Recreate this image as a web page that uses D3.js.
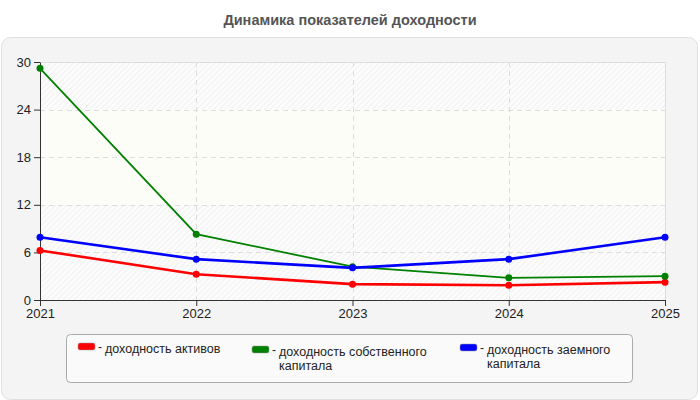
<!DOCTYPE html>
<html><head><meta charset="utf-8">
<script src="https://cdn.jsdelivr.net/npm/d3@7"></script>
<style>body{margin:0;background:#fff;} svg{display:block;font-family:"Liberation Sans",Arial,sans-serif;}</style>
</head><body><svg id="c" width="700" height="400"></svg>
<script>
const years = ["2021","2022","2023","2024","2025"];
const yTicks = [0,6,12,18,24,30];
const seriesNames = ["доходность активов","доходность собственного капитала","доходность заемного капитала"];
const seriesColors = ["#ff0000","#008000","#0000ff"];
const roa = [6.25, 3.25, 2.0, 1.85, 2.25];
const roe = [29.2, 8.3, 4.2, 2.8, 3.0];
const rol = [7.9, 5.15, 4.05, 5.15, 7.9];
const values = [roa, roe, rol];
const legendLines = [["доходность активов"],["доходность собственного","капитала"],["доходность заемного","капитала"]];

const svg = d3.select("#c");
const L=40, R=665, T=62, B=300;
const x = d3.scalePoint().domain(years).range([L,R]);
const y = d3.scaleLinear().domain([0,30]).range([B,T]);

const defs = svg.append("defs");
const pat = defs.append("pattern").attr("id","hatch").attr("patternUnits","userSpaceOnUse")
  .attr("width",4).attr("height",4).attr("patternTransform","rotate(45)");
pat.append("rect").attr("width",4).attr("height",4).attr("fill","#fcfcfc");
pat.append("line").attr("x1",0).attr("y1",0).attr("x2",0).attr("y2",4).attr("stroke","#eeeeee").attr("stroke-width",1.5);

// title
svg.append("text").attr("x",350).attr("y",25).attr("text-anchor","middle")
  .attr("font-size",14.5).attr("font-weight","bold").attr("fill","#555").text("Динамика показателей доходности");

// outer panel
svg.append("rect").attr("x",1.5).attr("y",37.5).attr("width",696).attr("height",362).attr("rx",9)
  .attr("fill","#f4f4f4").attr("stroke","#e0e0e0");

// plot background
svg.append("rect").attr("x",L).attr("y",T).attr("width",R-L).attr("height",B-T).attr("fill","url(#hatch)");
svg.append("rect").attr("x",L).attr("y",y(24)).attr("width",R-L).attr("height",y(12)-y(24)).attr("fill","#fdfdf8");
svg.append("path").attr("d",`M${L},${T+0.5}H${R+0.5}V${B}`).attr("fill","none").attr("stroke","#dddddd");

// grid
const g = svg.append("g");
g.selectAll(".hg").data(yTicks.filter(d=>d>0&&d<30)).join("line")
  .attr("x1",L).attr("x2",R).attr("y1",d=>Math.round(y(d))+0.5).attr("y2",d=>Math.round(y(d))+0.5)
  .attr("stroke","#dddddd").attr("stroke-dasharray","5,4");
g.selectAll(".vg").data(years.slice(1,-1)).join("line")
  .attr("y1",T).attr("y2",B).attr("x1",d=>Math.round(x(d))+0.5).attr("x2",d=>Math.round(x(d))+0.5)
  .attr("stroke","#dddddd").attr("stroke-dasharray","5,4");

// axes
const ya = svg.append("g").attr("transform",`translate(${L},0)`)
  .call(d3.axisLeft(y).tickValues(yTicks).tickSize(6).tickSizeOuter(0).tickPadding(3));
const xa = svg.append("g").attr("transform",`translate(0,${B})`)
  .call(d3.axisBottom(x).tickSize(6).tickSizeOuter(0).tickPadding(3));
[ya,xa].forEach(a=>{
  a.selectAll("path,line").attr("stroke","#333");
  a.selectAll("text").attr("font-size",13).attr("fill","#222").attr("font-family","Liberation Sans, Arial, sans-serif");
});

// lines
const line = d3.line().x((d,i)=>x(years[i])).y(d=>y(d));
[0,1,2].forEach(k=>{
  svg.append("path").datum(values[k]).attr("d",line).attr("fill","none")
    .attr("stroke",seriesColors[k]).attr("stroke-width",k===1?1.8:2.6);
  svg.selectAll(".pt"+k).data(values[k]).join("circle")
    .attr("cx",(d,i)=>x(years[i])).attr("cy",d=>y(d)).attr("r",3.5).attr("fill",seriesColors[k]);
});

// legend
svg.append("rect").attr("x",66.5).attr("y",334.5).attr("width",566).attr("height",48).attr("rx",4)
  .attr("fill","#fafafa").attr("stroke","#aaaaaa");
const legX = [78, 252, 460];
const legY = [343, 346, 344];
seriesNames.forEach((n,k)=>{
  svg.append("rect").attr("x",legX[k]).attr("y",legY[k]).attr("width",17).attr("height",7).attr("rx",2)
    .attr("fill",seriesColors[k]).attr("stroke","#999").attr("stroke-width",0.5);
  svg.append("text").attr("x",legX[k]+20).attr("y",legY[k]+8).attr("font-size",12).attr("fill","#222").text("-");
  legendLines[k].forEach((s,j)=>{
    svg.append("text").attr("font-size",12.5).attr("fill","#222")
      .attr("x",legX[k]+27).attr("y",legY[k]+10+j*14).text(s);
  });
});
</script></body></html>
